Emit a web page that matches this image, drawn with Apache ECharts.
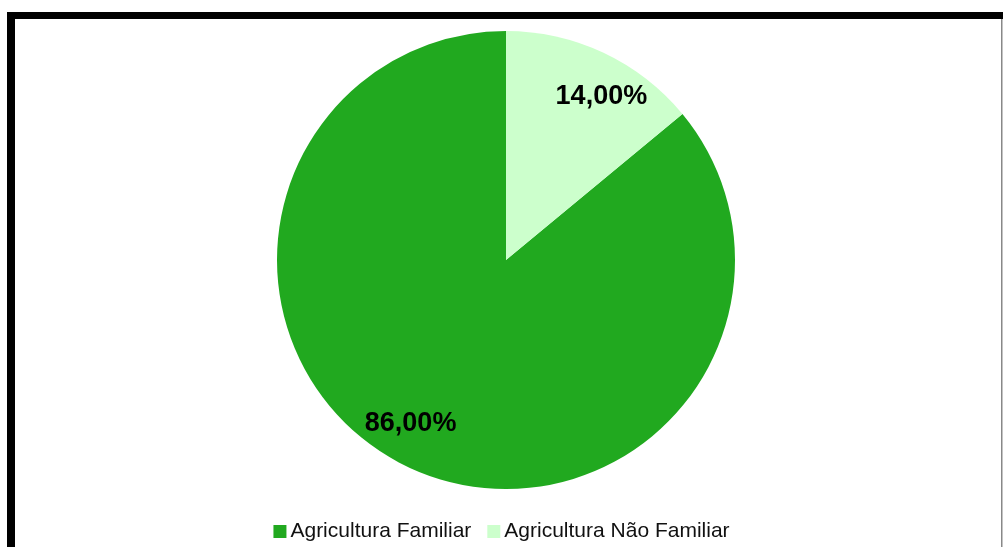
<!DOCTYPE html>
<html>
<head>
<meta charset="utf-8">
<script src="https://cdn.jsdelivr.net/npm/echarts@6/dist/echarts.min.js"></script>
<style>
html,body{margin:0;padding:0;background:#fff;}
#c{width:1003px;height:547px;}
</style>
</head>
<body>
<div id="c"></div>
<script>
const categories = ['Agricultura Familiar', 'Agricultura Não Familiar'];
const values = [86, 14];
const colors = ['#21A91F', '#CCFFCC'];

const chart = echarts.init(document.getElementById('c'), null, {renderer: 'canvas'});
const data = categories.map((n, i) => ({name: n, value: values[i], itemStyle: {color: colors[i]}}));
const fmt = p => p.value.toFixed(2).replace('.', ',') + '%';
const center = [506, 260];
const R = 229;
const start = 90 - 360 * values[1] / (values[0] + values[1]);

chart.setOption({
  backgroundColor: '#fff',
  animation: false,
  graphic: [
    {type: 'rect', shape: {x: 7, y: 12, width: 1000, height: 7}, style: {fill: '#000'}},
    {type: 'rect', shape: {x: 7, y: 12, width: 8, height: 540}, style: {fill: '#000'}},
    {type: 'rect', shape: {x: 1001, y: 19, width: 1.5, height: 530}, style: {fill: '#888'}}
  ],
  legend: {
    data: categories,
    left: 'center',
    top: 516,
    itemWidth: 13,
    itemHeight: 13,
    itemGap: 16,
    icon: 'rect',
    textStyle: {fontFamily: 'Liberation Sans', fontSize: 21, color: '#111', padding: [0, 0, 0, -1]}
  },
  series: [
    {
      type: 'pie',
      center: center,
      radius: [0, R],
      startAngle: start,
      clockwise: true,
      label: {show: false},
      labelLine: {show: false},
      itemStyle: {borderWidth: 0},
      emphasis: {disabled: true},
      data: data
    },
    {
      type: 'pie',
      center: center,
      radius: [R * 0.63, R],
      startAngle: start - 5,
      clockwise: true,
      silent: true,
      legendHoverLink: false,
      itemStyle: {color: 'rgba(0,0,0,0)', borderWidth: 0},
      label: {show: true, position: 'inside', formatter: fmt, fontFamily: 'Liberation Sans', fontWeight: 'bold', fontSize: 27, color: '#000'},
      labelLine: {show: false},
      emphasis: {disabled: true},
      data: categories.map((n, i) => ({name: n + ' ', value: values[i]}))
    }
  ]
});
</script>
</body>
</html>
